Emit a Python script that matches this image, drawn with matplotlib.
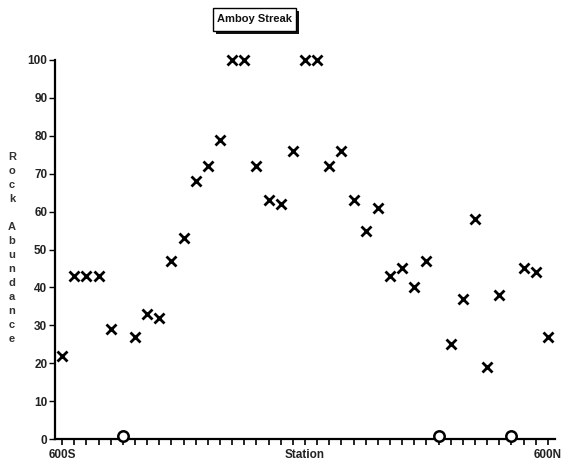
import matplotlib
matplotlib.use("Agg")
import matplotlib.pyplot as plt
from matplotlib.patches import Rectangle

# Data
stations = list(range(-600, 601, 30))  # 600S .. 600N
abundance = [22, 43, 43, 43, 29, 0, 27, 33, 32, 47, 53, 68, 72, 79, 100, 100,
             72, 63, 62, 76, 100, 100, 72, 76, 63, 55, 61, 43, 45, 40, 47, 0,
             25, 37, 58, 19, 38, 0, 45, 44, 27]
yticks = list(range(0, 101, 10))
xtick_labels = {-600: "600S", 600: "600N"}
title = "Amboy Streak"

plt.rcParams['font.family'] = ['Liberation Sans', 'DejaVu Sans']

W, H = 565, 463
fig = plt.figure(figsize=(W/100, H/100), dpi=100)
ax = fig.add_axes([55/W, 24/H, 500/W, 379/H])

xs_pos = [s for s, v in zip(stations, abundance) if v > 0]
ys_pos = [v for v in abundance if v > 0]
xs_zero = [s for s, v in zip(stations, abundance) if v == 0]
ys_zero = [v for v in abundance if v == 0]

ax.plot(xs_pos, ys_pos, linestyle='none', marker='x', markersize=6.5,
        markeredgewidth=2.0, color='black', clip_on=False, zorder=3)
ax.plot(xs_zero, [y + 0.8 for y in ys_zero], linestyle='none',
        marker='o', markersize=7.5, markerfacecolor='white',
        markeredgecolor='black', markeredgewidth=1.8, clip_on=False, zorder=4)

ax.set_xlim(-617.5, 617.5)
ax.set_ylim(0, 100)

for side in ['top', 'right']:
    ax.spines[side].set_visible(False)
ax.spines['left'].set_linewidth(1.6)
ax.spines['bottom'].set_linewidth(1.6)

tick_font = dict(fontsize=8.5, fontweight='bold', color='#222222')

ax.set_yticks(yticks)
ax.set_yticklabels([str(t) for t in yticks], **tick_font)
ax.tick_params(axis='y', direction='out', length=4, width=1.0, pad=1.5)

ax.set_xticks(stations)
ax.set_xticklabels([xtick_labels.get(s, "") for s in stations], **tick_font)
ax.tick_params(axis='x', direction='in', length=4, width=1.2, pad=7)
for t in ax.xaxis.get_major_ticks():
    t.tick1line.set_marker(matplotlib.markers.TICKDOWN)

fig.text(305/W, 1 - 455/H, "Station", ha='center', va='center', **tick_font)

fig.text(12/W, 1 - 248/H, "R\no\nc\nk\n\nA\nb\nu\nn\nd\na\nn\nc\ne",
         ha='center', va='center', fontsize=8, fontweight='bold',
         color='#333333', linespacing=1.5)

# Title with shadowed box
x0, y0, bw, bh = 213, 8, 83, 23
shadow = Rectangle(((x0 + 3)/W, 1 - (y0 + bh + 3)/H), bw/W, bh/H,
                   transform=fig.transFigure, facecolor='#111111',
                   edgecolor='none', zorder=1)
box = Rectangle((x0/W, 1 - (y0 + bh)/H), bw/W, bh/H,
                transform=fig.transFigure, facecolor='white',
                edgecolor='black', linewidth=1.0, zorder=2)
fig.patches.extend([shadow, box])
fig.text((x0 + bw/2)/W, 1 - (y0 + bh/2)/H, title, ha='center', va='center',
         fontsize=8, fontweight='bold', color='#111111', zorder=5)

fig.savefig("out.png", dpi=100)
